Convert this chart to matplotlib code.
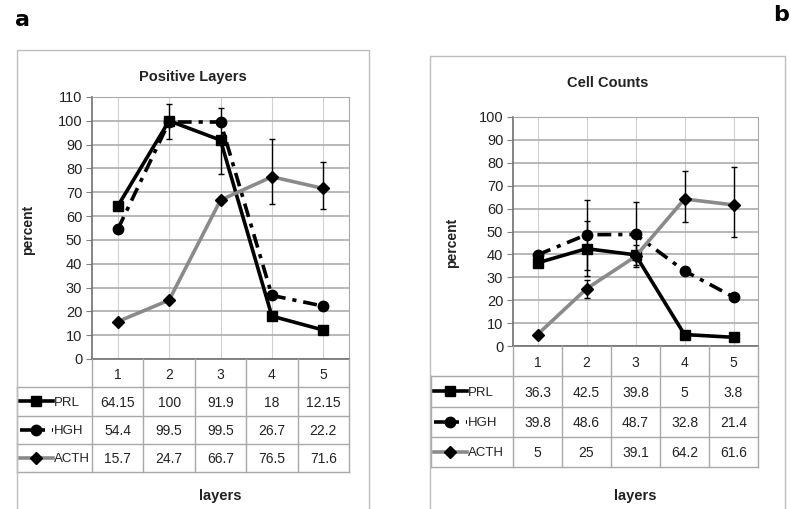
import numpy as np
import matplotlib
matplotlib.use('Agg')
import matplotlib.pyplot as plt
from matplotlib.patches import Rectangle

plt.rcParams['font.family'] = ['Liberation Sans', 'DejaVu Sans']
plt.rcParams['lines.scale_dashes'] = False

W, H = 791, 509

layers = [1, 2, 3, 4, 5]
series = ['PRL', 'HGH', 'ACTH']

# panel a: positive layers
pos_prl = [64.15, 100, 91.9, 18, 12.15]
pos_hgh = [54.4, 99.5, 99.5, 26.7, 22.2]
pos_acth = [15.7, 24.7, 66.7, 76.5, 71.6]
pos_prl_lo = [0, 7.5, 14.2, 0, 0]
pos_prl_hi = [0, 7, 13.6, 0, 0]
pos_hgh_lo = [0, 0, 0, 0, 0]
pos_hgh_hi = [0, 0, 0, 0, 0]
pos_acth_lo = [0, 0, 0, 11.5, 8.6]
pos_acth_hi = [0, 0, 0, 16, 11.2]

# panel b: cell counts
cell_prl = [36.3, 42.5, 39.8, 5, 3.8]
cell_hgh = [39.8, 48.6, 48.7, 32.8, 21.4]
cell_acth = [5, 25, 39.1, 64.2, 61.6]
cell_prl_lo = [0, 12, 4.5, 0, 0]
cell_prl_hi = [0, 12, 4.5, 0, 0]
cell_hgh_lo = [0, 15.2, 14, 0, 0]
cell_hgh_hi = [0, 15.2, 14, 0, 0]
cell_acth_lo = [0, 4, 0, 10, 14]
cell_acth_hi = [0, 4, 0, 12.2, 16.5]

styles = {
    'PRL': dict(color='black', lw=2.6, marker='s', ms=7.5, ls='-'),
    'HGH': dict(color='black', lw=2.6, marker='o', ms=7.5, dashes=(10, 5, 3, 5)),
    'ACTH': dict(color='#8a8a8a', lw=2.6, marker='D', ms=6, ls='-'),
}

fig = plt.figure(figsize=(W / 100, H / 100), dpi=100)


def rect(x0, y0, x1, y1):
    return [x0 / W, 1 - y1 / H, (x1 - x0) / W, (y1 - y0) / H]


def ftext(x, y, s, **kw):
    fig.text(x / W, 1 - y / H, s, **kw)


def draw_panel(box, plot, tbl_left, tbl_bottom, ymax, title, data, lo, hi,
               title_y, plabel_x, plabel_y):
    bx0, by0, bx1 = box
    px0, py0, px1, py1 = plot
    fig.patches.append(Rectangle((bx0 / W, 1 - 515 / H), (bx1 - bx0) / W, (515 - by0) / H,
                                 transform=fig.transFigure, fill=False,
                                 edgecolor='#bdbdbd', lw=1.0))

    ax = fig.add_axes(rect(px0, py0, px1, py1))
    for name, vals, l, h in zip(series, data, lo, hi):
        l = np.array(l, float)
        h = np.array(h, float)
        m = (l + h) > 0
        if m.any():
            ax.errorbar(np.array(layers)[m], np.array(vals)[m], yerr=[l[m], h[m]],
                        fmt='none', ecolor='black', elinewidth=1, capsize=2.5,
                        capthick=1, zorder=3)
    for name, vals in zip(series, data):
        ax.plot(layers, vals, mfc='black', mec='black', zorder=4, **styles[name])
    ax.set_xlim(0.5, 5.5)
    ax.set_ylim(0, ymax)
    ax.set_yticks(range(0, ymax + 1, 10))
    ax.set_xticks(layers)
    ax.grid(axis='y', color='#ababab', lw=1.2)
    ax.grid(axis='x', color='#d0d0d0', lw=0.8)
    ax.set_axisbelow(True)
    ax.tick_params(axis='y', length=4, color='#808080', labelsize=10.5, pad=3,
                   labelcolor='#222222')
    ax.tick_params(axis='x', length=0, labelbottom=False)
    for s in ['top', 'right']:
        ax.spines[s].set_color('#a8a8a8')
    for s in ['left', 'bottom']:
        ax.spines[s].set_color('#707070')
        ax.spines[s].set_linewidth(1.2)

    # data table below the plot
    tax = fig.add_axes(rect(tbl_left, py1, px1, tbl_bottom))
    u = 5 / (px1 - px0)
    xmin = 0.5 - (px0 - tbl_left) * u
    tax.set_xlim(xmin, 5.5)
    tax.set_ylim(4, 0)
    tax.axis('off')
    gc = '#a8a8a8'
    for k in range(6):
        tax.plot([0.5 + k, 0.5 + k], [0, 4], color=gc, lw=1, clip_on=False)
    for r in range(1, 5):
        tax.plot([xmin, 5.5], [r, r], color=gc, lw=1, clip_on=False)
    tax.plot([xmin, xmin], [1, 4], color=gc, lw=1, clip_on=False)
    for c in layers:
        tax.text(c, 0.55, str(c), ha='center', va='center', fontsize=10, color='#222222')
    for r, (name, vals) in enumerate(zip(series, data), start=1):
        for c, v in zip(layers, vals):
            tax.text(c, r + 0.55, '{:g}'.format(v), ha='center', va='center',
                     fontsize=10, color='#222222')
        tax.plot([xmin + 3 * u, xmin + 19 * u, xmin + 36 * u], [r + 0.5] * 3,
                 mfc='black', mec='black', markevery=[1], clip_on=False, **styles[name])
        tax.text(xmin + 37 * u, r + 0.55, name, ha='left', va='center',
                 fontsize=9.5, color='#222222')

    ftext((bx0 + bx1) / 2, title_y, title, ha='center', va='center',
          fontsize=10.5, fontweight='bold', color='#222222')
    ftext(plabel_x, plabel_y, 'percent', ha='center', va='center', rotation=90,
          fontsize=10, fontweight='bold', color='#222222')
    ftext((px0 + px1) / 2, 496, 'layers', ha='center', va='center',
          fontsize=10.5, fontweight='bold', color='#222222')


draw_panel((17, 50, 369), (92, 97, 349, 359), 17, 472, 110, 'Positive Layers',
           [pos_prl, pos_hgh, pos_acth],
           [pos_prl_lo, pos_hgh_lo, pos_acth_lo],
           [pos_prl_hi, pos_hgh_hi, pos_acth_hi],
           77, 28, 230)

draw_panel((430, 56, 785), (513, 117, 758, 346), 431, 467, 100, 'Cell Counts',
           [cell_prl, cell_hgh, cell_acth],
           [cell_prl_lo, cell_hgh_lo, cell_acth_lo],
           [cell_prl_hi, cell_hgh_hi, cell_acth_hi],
           83, 452, 243)

ftext(22, 20, 'a', ha='center', va='center', fontsize=16, fontweight='bold',
      family='DejaVu Sans')
ftext(781, 15, 'b', ha='center', va='center', fontsize=16, fontweight='bold',
      family='DejaVu Sans')

fig.savefig('out.png', dpi=100)
